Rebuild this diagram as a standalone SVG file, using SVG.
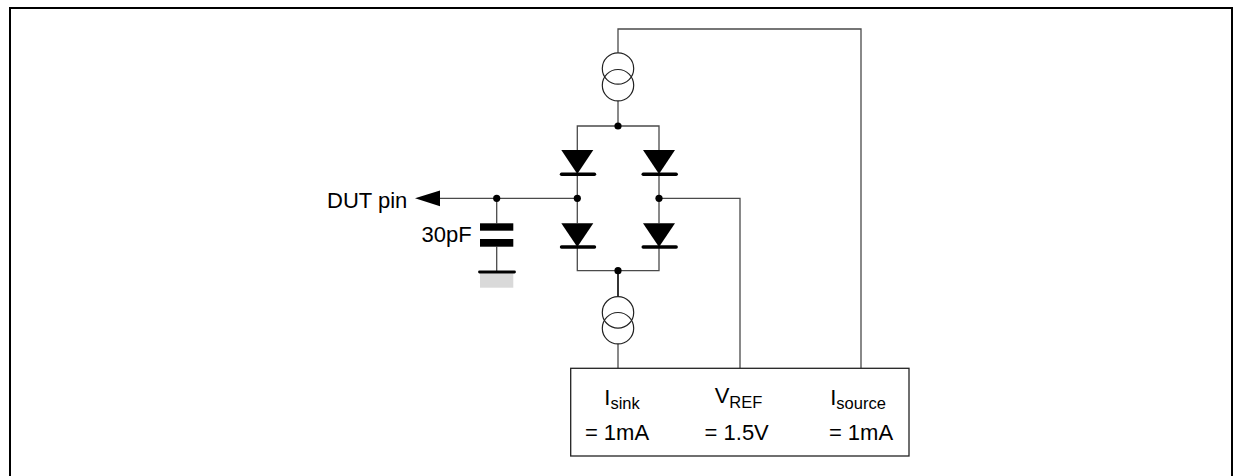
<svg xmlns="http://www.w3.org/2000/svg" width="1233" height="476" viewBox="0 0 1233 476">
<style>
.w{fill:none;stroke:#4a4a4a;stroke-width:1.3}
.c{fill:none;stroke:#222;stroke-width:1.2}
.dot{fill:#000}
.di{fill:#000}
.bar{stroke:#000;stroke-width:3.4;stroke-linecap:round}
.t{font-family:"Liberation Sans",Arial,sans-serif;font-size:22px;fill:#000}
.s{font-size:16.5px}
</style>
<rect x="10" y="8" width="1222" height="480" fill="#fff" stroke="#000" stroke-width="2"/>
<g id="connectors">
<polyline class="w" points="618,52.8 618,29 861,29 861,368.3"/>
<line class="w" x1="618" y1="101" x2="618" y2="126"/>
<polyline class="w" points="577.3,150 577.3,126 659,126 659,150"/>
<line class="w" x1="577.3" y1="174" x2="577.3" y2="223.3"/>
<line class="w" x1="659" y1="174" x2="659" y2="223.3"/>
<polyline class="w" points="577.3,247 577.3,270.7 659,270.7 659,247"/>
<line x1="618" y1="270.7" x2="618" y2="296.7" stroke="#111" stroke-width="1.7"/>
<line class="w" x1="618" y1="344" x2="618" y2="368.3"/>
<polyline class="w" points="659,198.3 740,198.3 740,368.3"/>
<line class="w" x1="438" y1="198.3" x2="577.3" y2="198.3"/>
<line class="w" x1="496.7" y1="198.3" x2="496.7" y2="223.3"/>
<line class="w" x1="496.7" y1="246.7" x2="496.7" y2="271"/>
</g>
<g id="source-top">
<circle class="c" cx="618" cy="68.5" r="15.7"/>
<circle class="c" cx="618" cy="85.2" r="15.7"/>
</g>
<g id="source-bottom">
<circle class="c" cx="618" cy="312.4" r="15.7"/>
<circle class="c" cx="618" cy="328.2" r="15.7"/>
</g>
<g id="diode-tl">
<polygon class="di" points="561.3,150 593.3,150 577.3,174"/>
<line class="bar" x1="561.5" y1="174.3" x2="594.5" y2="174.3"/>
</g>
<g id="diode-tr">
<polygon class="di" points="643,150 675,150 659,174"/>
<line class="bar" x1="643.2" y1="174.3" x2="676.2" y2="174.3"/>
</g>
<g id="diode-bl">
<polygon class="di" points="561.3,223.3 593.3,223.3 577.3,247"/>
<line class="bar" x1="561.5" y1="247" x2="594.5" y2="247"/>
</g>
<g id="diode-br">
<polygon class="di" points="643,223.3 675,223.3 659,247"/>
<line class="bar" x1="643.2" y1="247" x2="676.2" y2="247"/>
</g>
<g id="dots">
<circle class="dot" cx="618" cy="126" r="3.6"/>
<circle class="dot" cx="577.3" cy="198.3" r="3.6"/>
<circle class="dot" cx="659" cy="198.3" r="3.6"/>
<circle class="dot" cx="618" cy="270.7" r="3.6"/>
<circle class="dot" cx="496.7" cy="198.3" r="3.6"/>
</g>
<g id="dut-pin">
<polygon fill="#000" points="415,198.3 440,190.5 440,206.2"/>
<text class="t" x="327" y="208.3">DUT pin</text>
</g>
<g id="capacitor">
<rect x="480" y="223.3" width="33.3" height="7.4" fill="#000"/>
<rect x="480" y="239" width="33.3" height="7.7" fill="#000"/>
<text class="t" x="421.5" y="242.3">30pF</text>
</g>
<g id="ground">
<rect x="480" y="273.3" width="33.3" height="14.4" fill="#d9d9d9"/>
<line x1="479.5" y1="272" x2="514.5" y2="272" stroke="#000" stroke-width="2.8" stroke-linecap="round"/>
</g>
<g id="reference-box">
<rect x="570.7" y="368.3" width="338.3" height="87.7" fill="#fff" stroke="#222" stroke-width="1.3"/>
<text class="t" x="622" y="405" text-anchor="middle">I<tspan class="s" dy="3.5">sink</tspan></text>
<text class="t" x="738.5" y="402.7" text-anchor="middle">V<tspan class="s" dy="5.5">REF</tspan></text>
<text class="t" x="858" y="405" text-anchor="middle">I<tspan class="s" dy="3.5">source</tspan></text>
<text class="t" x="617" y="440.3" text-anchor="middle">= 1mA</text>
<text class="t" x="736.7" y="440.3" text-anchor="middle">= 1.5V</text>
<text class="t" x="861" y="440.3" text-anchor="middle">= 1mA</text>
</g>
</svg>
